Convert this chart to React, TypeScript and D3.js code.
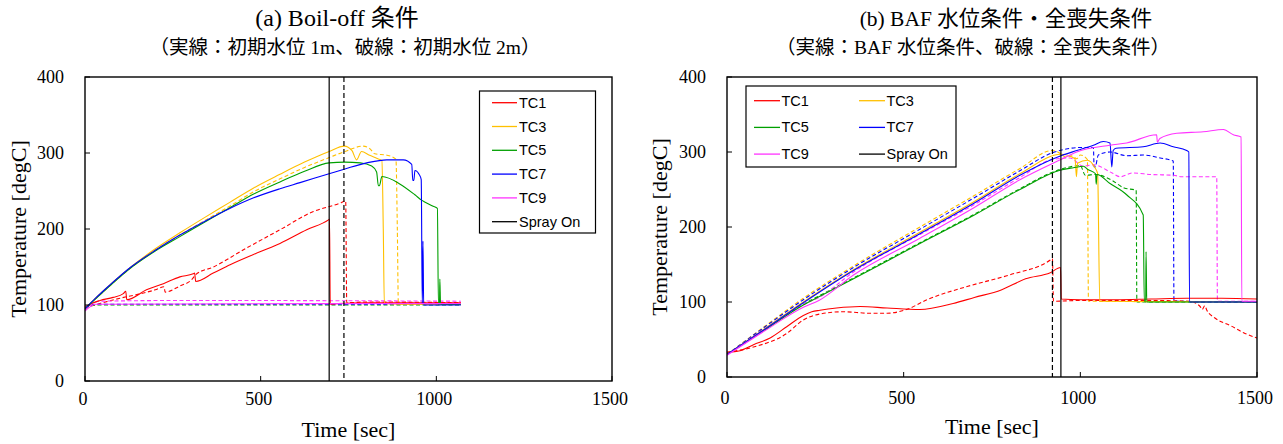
import React from "react";
import * as d3 from "d3";

// ---------- DATA ----------
const xTicks = [0, 500, 1000, 1500];
const yTicks = [0, 100, 200, 300, 400];
const seriesNames = ["TC1", "TC3", "TC5", "TC7", "TC9"];
const seriesColors = ["#FF0000", "#FFC000", "#00A000", "#0000FF", "#FF33FF"];

// (a) Boil-off: solid = 1m, dashed = 2m   [sec, degC]
const a_TC1_s = [[0,97],[10,100],[43,106],[80,110],[109,115],[116,118],[119,107],[175,120],[223,128],[270,137],[308,141],[312,142],[315,131],[365,142],[413,153],[498,170],[555,181],[631,199],[693,212],[696,213],[698,101],[720,102],[800,103],[1070,103]];
const a_TC1_d = [[0,96],[50,103],[100,109],[150,114],[200,120],[225,124],[228,117],[270,125],[305,134],[315,140],[365,150],[460,175],[555,199],[650,223],[726,234],[742,237],[745,103],[800,104],[1070,103]];
const a_TC3_s = [[0,95],[30,109],[70,126],[128,149],[200,174],[270,195],[340,215],[412,235],[480,254],[555,272],[625,288],[695,302],[738,309],[760,303],[773,291],[787,302],[810,297],[830,293],[845,290],[849,200],[852,102],[900,101],[1070,101]];
const a_TC3_d = [[0,95],[30,108],[70,125],[128,148],[200,172],[270,192],[340,211],[412,230],[480,249],[555,266],[625,281],[695,294],[740,302],[791,309],[810,306],[825,299],[860,297],[885,292],[889,200],[892,101],[1070,101]];
const a_TC5_s = [[0,95],[30,108],[70,125],[128,148],[200,171],[270,190],[340,209],[412,228],[480,246],[555,262],[625,276],[695,287],[740,288],[783,287],[816,283],[830,275],[835,257],[838,257],[845,269],[897,259],[939,245],[958,238],[991,230],[1003,227],[1006,101],[1009,101],[1010,134],[1012,101],[1070,101]];
const a_TC5_d = [[0,96],[30,100],[1070,100]];
const a_TC7_s = [[0,95],[30,109],[70,126],[128,149],[200,172],[270,192],[340,210],[412,227],[480,241],[555,253],[612,261],[697,273],[740,279],[802,287],[859,291],[906,291],[930,285],[933,264],[936,264],[939,277],[952,271],[957,265],[960,101],[962,184],[964,100],[1070,100]];
const a_TC7_d = [[0,96],[30,101],[1070,101]];
const a_TC9_s = [[0,92],[30,101],[1070,102]];
const a_TC9_d = [[0,93],[40,105],[300,106],[1070,105]];
const a_spray_s = 695;
const a_spray_d = 737;

// (b) solid = BAF level, dashed = total loss
const b_TC1_s = [[0,33],[37,35],[75,43],[122,52],[169,67],[216,82],[240,87],[263,89],[310,92],[377,94],[453,92],[546,90],[640,98],[700,106],[776,116],[845,131],[915,139],[944,146],[946,104],[1000,103],[1100,103],[1200,104],[1300,105],[1400,105],[1500,104]];
const b_TC1_d = [[0,33],[75,40],[169,58],[216,76],[263,84],[330,87],[405,85],[453,85],[508,90],[566,103],[682,121],[799,136],[915,156],[921,158],[924,101],[1000,102],[1100,102],[1200,102],[1310,101],[1339,94],[1345,90],[1352,95],[1358,89],[1380,79],[1427,68],[1462,59],[1500,52]];
const b_TC3_s = [[0,30],[108,65],[216,100],[358,143],[546,193],[700,234],[829,271],[945,297],[985,291],[989,267],[992,285],[1020,289],[1040,280],[1049,271],[1055,101],[1500,100]];
const b_TC3_d = [[0,30],[108,68],[216,105],[358,148],[546,200],[700,242],[829,278],[921,302],[940,299],[960,293],[975,295],[990,291],[1000,296],[1020,290],[1023,101],[1500,100]];
const b_TC5_s = [[0,30],[108,63],[216,96],[260,107],[358,131],[546,178],[700,216],[829,250],[945,276],[980,279],[1009,281],[1020,277],[1043,271],[1045,257],[1047,270],[1084,258],[1131,243],[1178,216],[1181,101],[1185,101],[1186,167],[1188,100],[1500,100]];
const b_TC5_d = [[0,30],[108,63],[216,97],[260,108],[358,132],[546,179],[700,217],[829,251],[921,273],[960,279],[1000,282],[1014,269],[1043,270],[1090,262],[1124,252],[1158,249],[1160,100],[1500,100]];
const b_TC7_s = [[0,30],[108,64],[216,99],[358,142],[546,191],[700,232],[829,269],[945,295],[990,302],[1037,309],[1065,314],[1084,312],[1089,280],[1093,302],[1101,305],[1178,307],[1226,312],[1263,307],[1301,302],[1307,300],[1309,100],[1500,100]];
const b_TC7_d = [[0,30],[108,67],[216,103],[358,146],[546,197],[700,239],[829,275],[921,299],[960,304],[1000,306],[1037,306],[1039,280],[1042,280],[1051,296],[1084,300],[1131,295],[1178,296],[1226,292],[1263,288],[1265,101],[1500,100]];
const b_TC9_s = [[0,29],[108,62],[216,93],[260,102],[358,136],[546,185],[700,226],[829,263],[945,290],[990,300],[1084,309],[1131,312],[1216,323],[1218,313],[1225,318],[1273,325],[1348,327],[1405,330],[1433,323],[1455,320],[1457,101],[1500,101]];
const b_TC9_d = [[0,30],[108,64],[216,97],[260,106],[358,140],[546,190],[700,230],[829,266],[921,290],[971,292],[1008,281],[1037,283],[1090,272],[1113,267],[1148,272],[1200,270],[1264,269],[1287,267],[1386,267],[1388,101],[1500,101]];
const b_spray_s = 945;
const b_spray_d = 921;

const titleA = "(a) Boil-off 条件";
const subA = "（実線：初期水位 1m、破線：初期水位 2m）";
const titleB = "(b) BAF 水位条件・全喪失条件";
const subB = "（実線：BAF 水位条件、破線：全喪失条件）";
const xLabel = "Time [sec]";
const yLabel = "Temperature [degC]";
const sprayLabel = "Spray On";

const SERIF = "'Liberation Serif', 'Times New Roman', 'Noto Sans CJK JP', serif";
const SANS = "'Liberation Sans', Arial, sans-serif";

type Panel = {
  x0: number; x1: number; y0: number; y1: number;
  solid: number[][][]; dashed: number[][][];
  spraySolid: number; sprayDashed: number;
  title: string; sub: string; titleX: number; subX: number; titleSize: number;
  yLabelX: number; tickBase: number; xLabelBase: number;
  legend: "col" | "grid";
};

function Chart({ p }: { p: Panel }) {
  const x = d3.scaleLinear().domain([0, 1500]).range([p.x0, p.x1]);
  const y = d3.scaleLinear().domain([0, 400]).range([p.y1, p.y0]);
  const line = d3.line<number[]>().x(d => x(d[0])).y(d => y(d[1])).curve(d3.curveMonotoneX);
  const midY = (p.y0 + p.y1) / 2;

  const legendItems = [...seriesNames.map((n, i) => ({ n, c: seriesColors[i] })), { n: sprayLabel, c: "#000" }];

  return (
    <g>
      <text x={p.titleX} y={26} textAnchor="middle" fontFamily={SERIF} fontSize={p.titleSize}>{p.title}</text>
      <text x={p.subX} y={54} textAnchor="middle" fontFamily={SERIF} fontSize={19.5}>{p.sub}</text>
      <clipPath id={`clip${p.x0}`}>
        <rect x={p.x0} y={p.y0} width={p.x1 - p.x0} height={p.y1 - p.y0} />
      </clipPath>
      <g clipPath={`url(#clip${p.x0})`}>
        {p.dashed.map((d, i) => (
          <path key={"d" + i} d={line(d as any) || ""} fill="none" stroke={seriesColors[i]} strokeWidth={1.1} strokeDasharray="4,2.5" />
        ))}
        {p.solid.map((d, i) => (
          <path key={"s" + i} d={line(d as any) || ""} fill="none" stroke={seriesColors[i]} strokeWidth={1.1} />
        ))}
      </g>
      <line x1={x(p.spraySolid)} x2={x(p.spraySolid)} y1={p.y0} y2={p.y1} stroke="#000" strokeWidth={1.2} />
      <line x1={x(p.sprayDashed)} x2={x(p.sprayDashed)} y1={p.y0} y2={p.y1} stroke="#000" strokeWidth={1.2} strokeDasharray="5,3" />
      <rect x={p.x0} y={p.y0} width={p.x1 - p.x0} height={p.y1 - p.y0} fill="none" stroke="#000" strokeWidth={1.4} />
      {xTicks.map(t => (
        <g key={"xt" + t}>
          <line x1={x(t)} x2={x(t)} y1={p.y1} y2={p.y1 - 5} stroke="#000" strokeWidth={1} />
          <text x={x(t) - 2} y={p.tickBase} textAnchor="middle" fontFamily={SERIF} fontSize={18}>{t}</text>
        </g>
      ))}
      {yTicks.map(t => (
        <g key={"yt" + t}>
          <line x1={p.x0} x2={p.x0 + 5} y1={y(t)} y2={y(t)} stroke="#000" strokeWidth={1} />
          <text x={p.x0 - 21} y={y(t) + 6} textAnchor="end" fontFamily={SERIF} fontSize={18}>{t}</text>
        </g>
      ))}
      <text x={(p.x0 + p.x1) / 2} y={p.xLabelBase} textAnchor="middle" fontFamily={SERIF} fontSize={22}>{xLabel}</text>
      <text transform={`translate(${p.yLabelX},${midY}) rotate(-90)`} textAnchor="middle" fontFamily={SERIF} fontSize={22}>{yLabel}</text>
      {p.legend === "col" ? (
        <g>
          <rect x={479.5} y={91} width={116} height={142} fill="#fff" stroke="#000" strokeWidth={1.2} />
          {legendItems.map((it, i) => (
            <g key={it.n}>
              <line x1={492} x2={517} y1={102.7 + i * 23.8} y2={102.7 + i * 23.8} stroke={it.c} strokeWidth={1.3} />
              <text x={519} y={102.7 + i * 23.8 + 5} fontFamily={SANS} fontSize={14.5}>{it.n}</text>
            </g>
          ))}
        </g>
      ) : (
        <g>
          <rect x={746} y={86} width={210} height={81} fill="#fff" stroke="#000" strokeWidth={1.2} />
          {legendItems.map((it, i) => {
            const col = i % 2, row = Math.floor(i / 2);
            const lx = col === 0 ? 754 : 859;
            const ly = 100.7 + row * 26.7;
            return (
              <g key={it.n}>
                <line x1={lx} x2={lx + 26} y1={ly} y2={ly} stroke={it.c} strokeWidth={1.3} />
                <text x={lx + 27.5} y={ly + 5} fontFamily={SANS} fontSize={14.5}>{it.n}</text>
              </g>
            );
          })}
        </g>
      )}
    </g>
  );
}

export default function App() {
  const panelA: Panel = {
    x0: 85, x1: 612, y0: 77, y1: 381,
    solid: [a_TC1_s, a_TC3_s, a_TC5_s, a_TC7_s, a_TC9_s],
    dashed: [a_TC1_d, a_TC3_d, a_TC5_d, a_TC7_d, a_TC9_d],
    spraySolid: a_spray_s, sprayDashed: a_spray_d,
    title: titleA, sub: subA, titleX: 337, subX: 345, titleSize: 24,
    yLabelX: 26, tickBase: 405, xLabelBase: 437, legend: "col",
  };
  const panelB: Panel = {
    x0: 727, x1: 1257, y0: 77, y1: 377,
    solid: [b_TC1_s, b_TC3_s, b_TC5_s, b_TC7_s, b_TC9_s],
    dashed: [b_TC1_d, b_TC3_d, b_TC5_d, b_TC7_d, b_TC9_d],
    spraySolid: b_spray_s, sprayDashed: b_spray_d,
    title: titleB, sub: subB, titleX: 1006, subX: 973, titleSize: 21.5,
    yLabelX: 667, tickBase: 404, xLabelBase: 434, legend: "grid",
  };
  return (
    <svg width={1283} height={444} style={{ position: "absolute", left: 0, top: 0, background: "#fff" }}>
      <rect x={0} y={0} width={1283} height={444} fill="#fff" />
      <Chart p={panelA} />
      <Chart p={panelB} />
    </svg>
  );
}
